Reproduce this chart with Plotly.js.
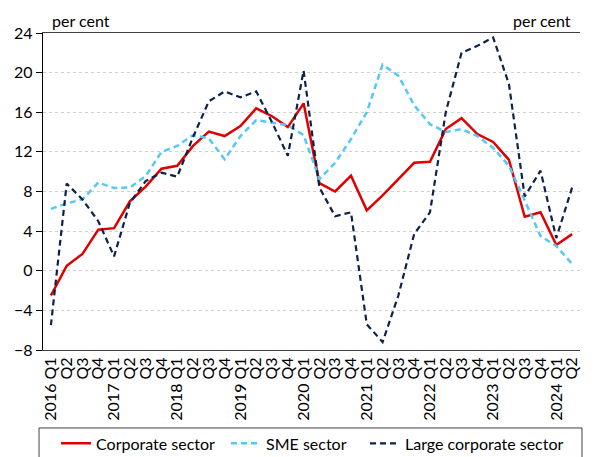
<!DOCTYPE html>
<html>
<head>
<meta charset="utf-8">
<script src="https://cdn.plot.ly/plotly-3.0.1.min.js"></script>
<style>html,body{margin:0;padding:0;background:#fff;}#chart{width:613px;height:457px;}</style>
</head>
<body>
<div id="chart"></div>
<script>
const categories = [
  "2016 Q1","Q2 2016","Q3 2016","Q4 2016",
  "2017 Q1","Q2 2017","Q3 2017","Q4 2017",
  "2018 Q1","Q2 2018","Q3 2018","Q4 2018",
  "2019 Q1","Q2 2019","Q3 2019","Q4 2019",
  "2020 Q1","Q2 2020","Q3 2020","Q4 2020",
  "2021 Q1","Q2 2021","Q3 2021","Q4 2021",
  "2022 Q1","Q2 2022","Q3 2022","Q4 2022",
  "2023 Q1","Q2 2023","Q3 2023","Q4 2023",
  "2024 Q1","Q2 2024"
];
const tickLabels = [
  "2016 Q1","Q2","Q3","Q4","2017 Q1","Q2","Q3","Q4",
  "2018 Q1","Q2","Q3","Q4","2019 Q1","Q2","Q3","Q4",
  "2020 Q1","Q2","Q3","Q4","2021 Q1","Q2","Q3","Q4",
  "2022 Q1","Q2","Q3","Q4","2023 Q1","Q2","Q3","Q4",
  "2024 Q1","Q2"
];
const corporate = [
  -2.5, 0.5, 1.7, 4.15, 4.3, 7.0, 8.5, 10.3, 10.6, 12.6, 14.05, 13.6,
  14.6, 16.4, 15.6, 14.5, 16.9, 8.85, 8.0, 9.6, 6.1, 7.6, 9.25, 10.9,
  11.0, 14.3, 15.4, 13.8, 13.0, 11.2, 5.45, 5.9, 2.6, 3.7
];
const sme = [
  6.25, 6.8, 7.2, 8.9, 8.35, 8.4, 9.55, 12.0, 12.6, 13.7, 13.35, 11.25,
  13.6, 15.2, 14.95, 14.7, 13.7, 9.25, 10.9, 13.3, 16.0, 20.8, 19.7, 16.7,
  14.8, 14.0, 14.3, 13.6, 12.4, 10.6, 7.1, 3.5, 2.5, 0.7
];
const large = [
  -5.5, 8.8, 7.2, 5.0, 1.45, 6.85, 9.05, 9.9, 9.5, 13.5, 17.1, 18.1,
  17.5, 18.1, 15.0, 11.6, 20.2, 8.4, 5.5, 5.9, -5.4, -7.2, -2.5, 3.7,
  5.9, 16.0, 22.0, 22.7, 23.55, 18.85, 7.5, 10.1, 3.3, 8.4
];
const yTicks = [-8, -4, 0, 4, 8, 12, 16, 20, 24];
const seriesNames = ["Corporate sector", "SME sector", "Large corporate sector"];

const idx = categories.map((c, i) => i);
const FONT = "Lato, 'Open Sans', sans-serif";

const traces = [
  {x: idx, y: corporate, name: seriesNames[0], type: "scatter", mode: "lines", legend: "legend",
   line: {color: "#e00000", width: 2.5}},
  {x: idx, y: sme, name: seriesNames[1], type: "scatter", mode: "lines", legend: "legend2",
   line: {color: "#55c8f5", width: 2.5, dash: "6px,4px"}},
  {x: idx, y: large, name: seriesNames[2], type: "scatter", mode: "lines", legend: "legend3",
   line: {color: "#0e2148", width: 2.2, dash: "6px,4px"}}
];

function legendAt(xc) {
  return {orientation: "h", xref: "container", yref: "container",
          x: xc, xanchor: "left", y: 0.067, yanchor: "top",
          font: {family: FONT, size: 16, color: "#000"}, bgcolor: "rgba(0,0,0,0)",
          borderwidth: 0};
}

const layout = {
  width: 613, height: 457,
  margin: {l: 43, r: 33, t: 33, b: 107},
  paper_bgcolor: "#fff", plot_bgcolor: "#fff",
  font: {family: FONT, size: 15, color: "#000"},
  showlegend: true,
  legend: legendAt(0.0914),
  legend2: legendAt(0.3687),
  legend3: legendAt(0.5954),
  xaxis: {
    range: [-0.5, categories.length - 0.5], tickmode: "array", tickvals: idx,
    ticktext: tickLabels, tickangle: -90, ticks: "", showgrid: false, zeroline: false,
    showline: true, linecolor: "#404040", linewidth: 1, mirror: true, automargin: false,
    tickfont: {family: FONT, size: 16, color: "#000"}, fixedrange: true
  },
  xaxis2: {
    overlaying: "x", anchor: "free", position: 0.25, automargin: false,
    range: [-0.5, categories.length - 0.5], tickmode: "array",
    tickvals: idx.slice(0, -1).map(v => v + 0.5),
    ticks: "outside", ticklen: 5, tickcolor: "#000", tickwidth: 1,
    showticklabels: false, showgrid: false, zeroline: false,
    showline: true, linecolor: "#000", linewidth: 1.3
  },
  yaxis: {
    range: [-8, 24], tickmode: "array", tickvals: yTicks, automargin: false,
    ticks: "outside", ticklen: 6, tickcolor: "#000",
    showgrid: true, gridcolor: "#d0d0d0", griddash: "dot", gridwidth: 1,
    zeroline: false, showline: true, linecolor: "#000", linewidth: 1.3,
    tickfont: {family: FONT, size: 16, color: "#000"}
  },
  yaxis2: {
    overlaying: "y", side: "right", anchor: "x", automargin: false,
    range: [-8, 24], tickmode: "array", tickvals: yTicks,
    ticks: "outside", ticklen: 6, tickcolor: "#000",
    showgrid: false, zeroline: false, showline: true, linecolor: "#000", linewidth: 1.3,
    tickfont: {family: FONT, size: 16, color: "#000"}
  },
  annotations: [
    {text: "per cent", xref: "paper", yref: "paper", x: 0.013, y: 1.0, xanchor: "left",
     yanchor: "bottom", yshift: 1, showarrow: false, font: {family: FONT, size: 16, color: "#000"}},
    {text: "per cent", xref: "paper", yref: "paper", x: 0.987, y: 1.0, xanchor: "right",
     yanchor: "bottom", yshift: 1, showarrow: false, font: {family: FONT, size: 16, color: "#000"}}
  ],
  shapes: [
    {type: "rect", xref: "paper", yref: "paper", x0: -0.0074, x1: 1.0037,
     y0: -0.36, y1: -0.246, line: {color: "#404040", width: 1}, fillcolor: "rgba(0,0,0,0)"}
  ]
};

Plotly.newPlot("chart", traces, layout, {staticPlot: true, displayModeBar: false});
</script>
</body>
</html>
